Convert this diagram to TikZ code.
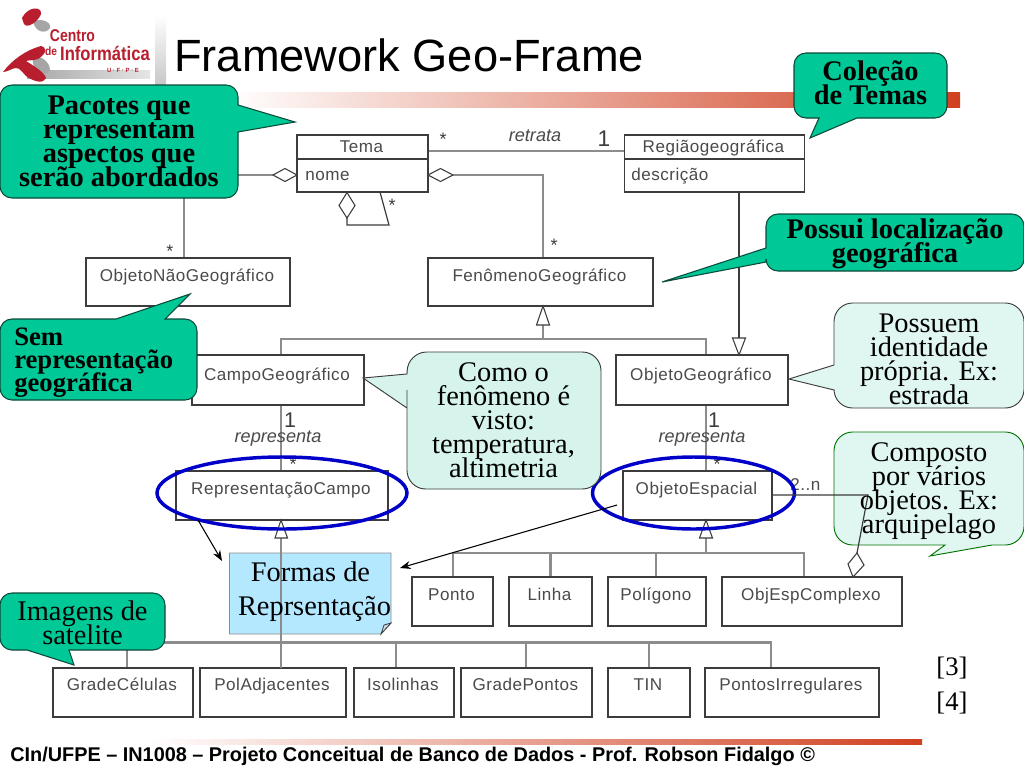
\documentclass[tikz,border=0pt]{standalone}
\usepackage{fontspec}
\usepackage{graphicx}
\setmainfont{Liberation Serif}
\setsansfont{Liberation Sans}
\newfontfamily\umlfont[LetterSpace=3]{Liberation Sans}
\usetikzlibrary{arrows.meta,shapes.geometric}
\definecolor{callgreen}{HTML}{00C896}
\definecolor{calllight}{HTML}{E0F6F0}
\definecolor{calllightb}{HTML}{D6F4EB}
\definecolor{formblue}{HTML}{B4E8FF}
\definecolor{linegray}{HTML}{8C8C8C}
\definecolor{linedark}{HTML}{3C3C3C}
\definecolor{umltext}{HTML}{4A4A4A}
\definecolor{ellblue}{HTML}{0000C8}
\definecolor{logored}{HTML}{B81E2D}
\definecolor{barred}{HTML}{D04020}
\definecolor{calledge}{HTML}{0A4A3A}
\tikzset{
  x=0.75pt,y=-0.75pt,
  umlpart/.style={draw=none,inner sep=0,text=umltext,font=\umlfont\fontsize{12.8}{12.8}\selectfont,anchor=base},
  conn/.style={draw=linegray,line width=1.6pt},
  conndark/.style={draw=linedark,line width=0.9pt},
  diam/.style={draw=linedark,line width=0.8pt,fill=white},
  tri/.style={draw=linedark,line width=0.8pt,fill=white},
  callbold/.style={align=center,inner sep=0,font=\bfseries\fontsize{21.3}{18}\selectfont\lineskiplimit -100pt\relax},
  callsmall/.style={align=left,inner sep=0,font=\bfseries\fontsize{20}{17.25}\selectfont\lineskiplimit -100pt\relax},
  callnorm/.style={align=center,inner sep=0,font=\fontsize{21.3}{18}\selectfont\lineskiplimit -100pt\relax},
  callg/.style={fill=callgreen,draw=calledge,line width=0.8pt,rounded corners=9pt},
  calll/.style={fill=calllight,draw=linedark,line width=0.7pt,rounded corners=14pt},
  assoclabel/.style={inner sep=0,anchor=base,text=umltext,font=\sffamily\itshape\fontsize{13.6}{13.6}\selectfont},
  multlabel/.style={inner sep=0,anchor=base,text=linedark,font=\sffamily\fontsize{13.5}{14}\selectfont},
  onelabel/.style={inner sep=0,anchor=base,text=linedark,font=\sffamily\fontsize{16}{16}\selectfont},
  ell/.style={draw=ellblue,line width=2.6pt,ellipse,inner sep=0},
  darrow/.style={draw=black,line width=0.8pt,-{Stealth[length=8pt,width=6pt]}},
  logotext/.style={inner sep=0,anchor=base,text=logored},
}
\newcommand{\umlrect}[7][17.25pt]{% name x1 y1 x2 y2 text
  \draw[draw=linedark,line width=0.9pt,fill=white] (#3,#4) rectangle (#5,#6);
  \path (#3,#4) -- (#5,#4) node[midway,umlpart,yshift=-#1,xshift=-0.8pt] (#2) {#7};
}
\begin{document}
\begin{tikzpicture}
\useasboundingbox (0,0) rectangle (1024,768);
\fill[white] (0,0) rectangle (1024,768);
% bars
\shade[left color=white,middle color=barred!45!white,right color=barred] (230,92) rectangle (960,107);
\shade[left color=white,right color=barred] (150,739) rectangle (922,744);
\shade[top color=white,bottom color=black!22] (155,15) rectangle (166,85);
% logo
\shade[left color=black!35,right color=black!10] (27,70) rectangle (150,78);
\fill[gray!70] (32,57) .. controls (40,54) and (50,62) .. (50,70) .. controls (48,76) and (38,74) .. (34,68) -- cycle;
\fill[gray!70] (33,22) .. controls (40,17) and (52,22) .. (50,28) .. controls (46,34) and (36,33) .. (33,22) -- cycle;
\fill[logored] (22,18) .. controls (28,6) and (42,6) .. (41,14) .. controls (38,22) and (27,29) .. (24,24) -- cycle;
\fill[logored] (3,72) .. controls (12,60) and (26,50) .. (41,46) .. controls (48,48) and (46,54) .. (38,59) .. controls (32,61) and (28,60) .. (26,61) .. controls (34,66) and (44,72) .. (46,78) .. controls (44,84) and (34,82) .. (26,76) .. controls (22,72) and (20,68) .. (16,68) .. controls (12,68) and (8,72) .. (3,72) -- cycle;
\node[logotext] (logoa) at (72.5,41) {\scalebox{0.82}[1]{\sffamily\bfseries\fontsize{12.8}{13}\selectfont Centro}};
\node[logotext] (logob) at (51,55) {\scalebox{0.85}[1]{\sffamily\bfseries\fontsize{9}{9}\selectfont de}};
\node[logotext] (logoc) at (105,60) {\scalebox{0.855}[1]{\sffamily\bfseries\fontsize{14.6}{15}\selectfont Informática}};
\node[logotext] (logod) at (123,72) {\sffamily\bfseries\fontsize{4.5}{5}\selectfont U · F · P · E};
% title, footer
\node[inner sep=0,anchor=base west,font=\sffamily\fontsize{33.9}{34}\selectfont] (title) at (174,71) {Framework Geo-Frame};
\node[inner sep=0,anchor=base west,font=\sffamily\bfseries\fontsize{14.9}{15}\selectfont] (foot) at (10,761) {CIn/UFPE – IN1008 – Projeto Conceitual de Banco de Dados - Prof. Robson Fidalgo ©};
% connectors
\draw[conn] (428,151) -- (624.5,151);
\draw[conn] (273,175) -- (184,175) -- (184,258);
\draw[conn] (453,175) -- (543,175) -- (543,258);
\draw[conndark] (347,218) -- (347,225) -- (389,225) -- (380,192);
\draw[conndark] (739,192) -- (739,338);
\draw[conn] (543,325) -- (543,339);
\draw[conn] (281,355) -- (281,339) -- (706,339) -- (706,355);
\draw[conn] (281,405) -- (281,471);
\draw[conn] (706,405) -- (706,471);
\draw[conn] (706,538) -- (706,553);
\draw[conn] (453,577) -- (453,553) -- (804,553) -- (804,577);
\draw[conn] (550.5,553) -- (550.5,577);
\draw[conn] (656,553) -- (656,577);
\draw[conn] (127,668) -- (127,642.5) -- (771,642.5) -- (771,668);
\draw[conn] (396,642.5) -- (396,668);
\draw[conn] (526,642.5) -- (526,668);
\draw[conn] (649,642.5) -- (649,668);
% uml boxes
\umlrect[12.75pt]{tema}{297}{135}{428}{192}{Tema}
\draw[linedark,line width=0.9pt] (297,159) -- (428,159);
\node[umlpart,anchor=base west] (nome) at (305,180) {nome};
\umlrect[12.75pt]{regiao}{624.5}{135}{804.5}{192}{Regiãogeográfica}
\draw[linedark,line width=0.9pt] (624.5,159) -- (804.5,159);
\node[umlpart,anchor=base west] (descr) at (631,180) {descrição};
\umlrect{ong}{86}{258}{290}{306}{ObjetoNãoGeográfico}
\umlrect{feno}{428}{258}{653}{306}{FenômenoGeográfico}
\umlrect[18.75pt]{campo}{192}{355}{364}{405}{CampoGeográfico}
\umlrect[18.75pt]{ogeo}{616}{355}{788}{405}{ObjetoGeográfico}
\umlrect{rcampo}{176}{471}{388}{520}{RepresentaçãoCampo}
\umlrect{oesp}{623}{471}{772}{520}{ObjetoEspacial}
\umlrect{ponto}{412}{577}{493}{626}{Ponto}
\umlrect{linha}{509}{577}{592}{626}{Linha}
\umlrect{poli}{608}{577}{706}{626}{Polígono}
\umlrect{oec}{722}{577}{902}{626}{ObjEspComplexo}
\umlrect[16.5pt]{gc}{53}{668}{193}{717}{GradeCélulas}
\umlrect[16.5pt]{pa}{200}{668}{346}{717}{PolAdjacentes}
\umlrect[16.5pt]{iso}{354}{668}{454}{717}{Isolinhas}
\umlrect[16.5pt]{gp}{461}{668}{592}{717}{GradePontos}
\umlrect[16.5pt]{tin}{608}{668}{690}{717}{TIN}
\umlrect[16.5pt]{pi}{705}{668}{879}{717}{PontosIrregulares}
% diamonds and triangles
\draw[diam] (297,175) -- (285,168.5) -- (273,175) -- (285,181.5) -- cycle;
\draw[diam] (428,175) -- (440.5,168.5) -- (453,175) -- (440.5,181.5) -- cycle;
\draw[diam] (347,192.5) -- (355,205.5) -- (347,218) -- (339,205.5) -- cycle;
\draw[tri] (543,306) -- (549.5,325) -- (536.5,325) -- cycle;
\draw[tri] (739,355) -- (732.5,338) -- (745.5,338) -- cycle;
% multiplicities
\node[multlabel] (m1) at (443,145) {*};
\node[assoclabel] (retrata) at (535,141) {retrata};
\node[onelabel,font=\sffamily\fontsize{17}{17}\selectfont] (m2) at (604,146.5) {1};
\node[multlabel] (m3) at (170,257) {*};
\node[multlabel] (m4) at (554,251) {*};
\node[multlabel] (m5) at (392,211) {*};
\node[onelabel] (m6) at (290,427) {1};
\node[assoclabel] (r1) at (278,442) {representa};
\node[multlabel] (m7) at (293,470) {*};
\node[onelabel] (m8) at (714,427) {1};
\node[assoclabel] (r2) at (702,442) {representa};
\node[multlabel] (m9) at (717,470) {*};
\node[umlpart,anchor=base west] (mn) at (790,490) {2..n};
% formas de representacao
\draw[fill=formblue,draw=linegray,line width=0.6pt] (229.5,553) -- (391,553) -- (391,623) -- (381,634) -- (229.5,634) -- cycle;
\draw[linedark,line width=0.6pt,fill=formblue!70!black!40!white] (391,623) -- (384,625) -- (381,634) -- cycle;
% generalization through note
\draw[conn] (281,538) -- (281,668);
\draw[tri] (281,520) -- (287.5,538) -- (275,538) -- cycle;
\draw[tri] (706,520) -- (712.5,538) -- (699.5,538) -- cycle;
\node[inner sep=0,font=\fontsize{21.3}{25.5}\selectfont,anchor=base] (formas) at (310.5,581.5) {Formas de};
\node[inner sep=0,font=\fontsize{21.3}{25.5}\selectfont,anchor=base] (repr) at (314.5,615.5) {Reprsentação};
% ellipses
\node[ell,minimum width=187.5pt,minimum height=54pt] (e1) at (282,493) {};
\node[ell,minimum width=151.5pt,minimum height=54pt] (e2) at (693.5,493) {};
% arrows
\draw[darrow] (198,520) -- (222,561);
\draw[darrow] (617,505) -- (400,568);
% callouts
\draw[callg] (0,100) [rounded corners=9pt] -- (0,85) -- (238,85) [rounded corners=0pt] -- (238,105) -- (295,122) -- (238,132) [rounded corners=9pt] -- (238,198) -- (0,198) -- (0,100);
\node[callbold,anchor=base] (c1) at (119,186.5) {Pacotes que\\representam\\aspectos que\\serão abordados};
\draw[callg] (794,85) -- (794,53) -- (947,53) -- (947,118) [rounded corners=0pt] -- (857,118) -- (810,138) -- (819,118) [rounded corners=9pt] -- (794,118) -- (794,85);
\node[callbold,anchor=base] (c2) at (870.5,104) {Coleção\\de Temas};
\draw[callg] (766,240) -- (766,214) -- (1024,214) -- (1024,271) -- (766,271) [rounded corners=0pt] -- (766,262) -- (662,282) -- (766,248) [rounded corners=9pt] -- (766,240);
\node[callbold,anchor=base] (c3) at (895,262.5) {Possui localização\\geográfica};
\draw[callg] (0,350) -- (0,319) [rounded corners=0pt] -- (116,319) -- (190,294) -- (165,319) [rounded corners=9pt] -- (197,319) -- (197,400) -- (0,400) -- (0,350);
\node[callsmall,anchor=base west] (c4) at (14,391) {Sem\\representação\\geográfica};
\draw[calll,fill=calllightb] (407,390) [rounded corners=0pt] -- (407,408) -- (363,378) -- (407,374) [rounded corners=14pt] -- (408,352) -- (601,352) -- (601,489) -- (407,489) -- (407,408);
\node[callnorm,anchor=base] (c5) at (503.5,477) {Como o\\fenômeno é\\visto:\\temperatura,\\altimetria};
\draw[calll] (834,340) [rounded corners=0pt] -- (834,365) -- (789,379) -- (834,390) [rounded corners=14pt] -- (834,408) -- (1024,408) -- (1024,303) -- (834,303) -- (834,365);
\node[callnorm,anchor=base] (c6) at (929,404) {Possuem\\identidade\\própria. Ex:\\estrada};
\draw[calll,draw=green!45!black] (834,490) -- (834,432) -- (1024,432) -- (1024,545) [rounded corners=0pt] -- (992,545) -- (930,556) -- (945,545) [rounded corners=14pt] -- (834,545) -- (834,490);
% composition line over the note
\draw[conndark] (772,495) -- (868,495) -- (857,553);
\draw[diam] (857,553) -- (864,565) -- (853,577) -- (848,564) -- cycle;
\node[callnorm,anchor=base] (c7) at (929,533) {Composto\\por vários\\objetos. Ex:\\arquipelago};
\draw[callg] (0,620) -- (0,593) -- (165,593) -- (165,650) [rounded corners=0pt] -- (69,650) -- (74,665) -- (27,650) [rounded corners=9pt] -- (0,650) -- (0,620);
\node[callnorm,anchor=base] (c8) at (82.5,644) {Imagens de\\satelite};
% refs
\node[inner sep=0,font=\fontsize{20}{20}\selectfont,anchor=base] (r3) at (952,675) {[3]};
\node[inner sep=0,font=\fontsize{20}{20}\selectfont,anchor=base] (r4) at (952,710) {[4]};
\end{tikzpicture}
\end{document}
